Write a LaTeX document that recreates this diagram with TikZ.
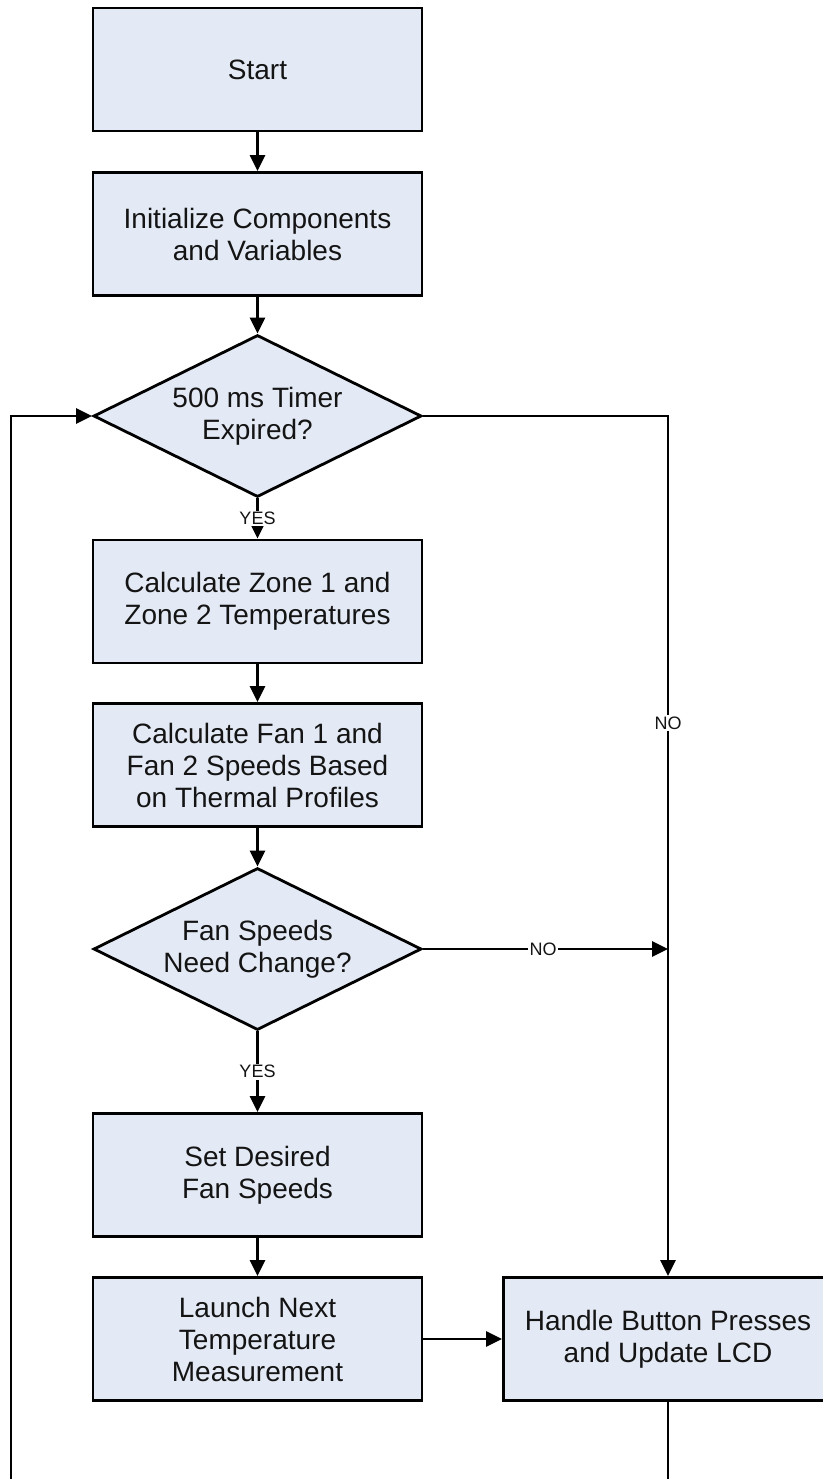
\documentclass[tikz,border=0pt]{standalone}
\usepackage{fontspec}
\setmainfont{Liberation Sans}
\usetikzlibrary{shapes.geometric,arrows.meta}
\definecolor{boxfill}{RGB}{228,234,245}
\definecolor{ink}{RGB}{20,20,20}
\begin{document}
\begin{tikzpicture}[x=1pt,y=-1pt,
  proc/.style={draw=black,line width=2.8pt,fill=boxfill,minimum width=329pt,minimum height=123pt,inner sep=0pt,align=center,font=\fontsize{28}{32}\selectfont,text=ink},
  dec/.style={draw=black,diamond,line width=2.8pt,fill=boxfill,inner sep=0pt,minimum width=328pt,minimum height=162pt},
  dtext/.style={align=center,font=\fontsize{28}{32}\selectfont,text=ink,inner sep=0pt},
  conn/.style={line width=2.8pt,line join=miter,-{Triangle[length=16pt,width=15pt]}},
  plain/.style={line width=2.8pt,line join=miter},
  lab/.style={fill=white,inner sep=1.5pt,font=\fontsize{18}{20}\selectfont,text=ink}]
\useasboundingbox[fill=white] (0,0) rectangle (822,1479);

% nodes
\node[proc] (start) at (257.5,69.5) {Start};
\node[proc] (init) at (257.5,234) {Initialize Components\\and Variables};
\node[dec] (d1) at (257.5,416) {};
\node[dtext] (d1t) at (d1.center) {500 ms Timer\\Expired?};
\node[proc] (calc) at (257.5,601.5) {Calculate Zone 1 and\\Zone 2 Temperatures};
\node[proc] (fan) at (257.5,765) {Calculate Fan 1 and\\Fan 2 Speeds Based\\on Thermal Profiles};
\node[dec] (d2) at (257.5,949) {};
\node[dtext] (d2t) at (d2.center) {Fan Speeds\\Need Change?};
\node[proc] (set) at (257.5,1175) {Set Desired\\Fan Speeds};
\node[proc] (launch) at (257.5,1339) {Launch Next\\Temperature\\Measurement};
\node[proc] (handle) at (668,1339) {Handle Button Presses\\and Update LCD};

% free ends and corners
\coordinate (r1) at (668,416);
\coordinate (r2) at (668,949);
\coordinate (lb) at (11,1490);
\coordinate (lt) at (11,416);
\coordinate (hb) at (668,1490);

% connectors
\draw[conn] (start) -- (init);
\draw[conn] (init) -- (d1);
\draw[conn] (d1) -- (calc) node[lab,pos=0.5] {YES};
\draw[conn] (calc) -- (fan);
\draw[conn] (fan) -- (d2);
\draw[conn] (d2) -- (set) node[lab,pos=0.5] {YES};
\draw[conn] (set) -- (launch);
\draw[conn] (launch) -- (handle);
\draw[conn] (d1.east) -- (r1) -- (handle.north);
\node[lab] (no1) at (668,723) {NO};
\draw[conn] (d2.east) -- (r2);
\node[lab] (no2) at (543,949) {NO};
\draw[conn] (lb) -- (lt) -- (d1.west);
\draw[plain] (handle.south) -- (hb);
\end{tikzpicture}
\end{document}
